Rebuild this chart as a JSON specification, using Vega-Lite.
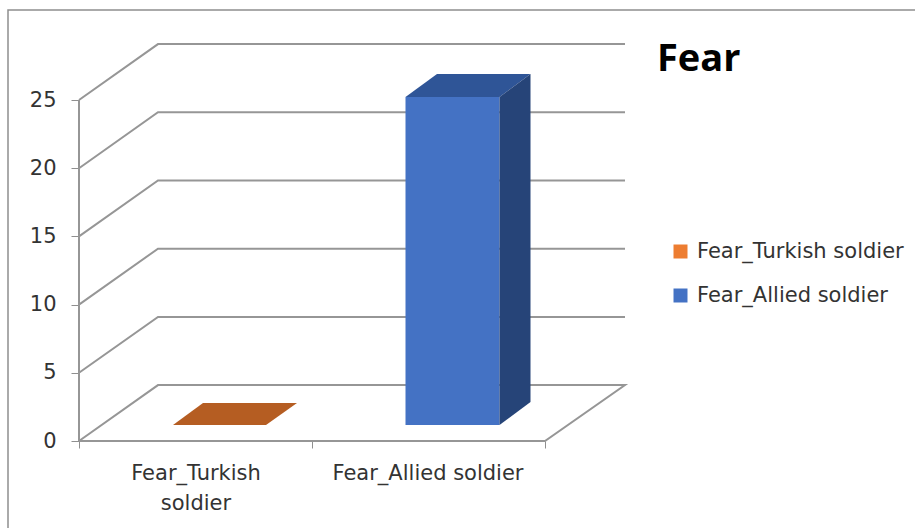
{"$schema":"https://vega.github.io/schema/vega-lite/v6.json","width":912,"height":526,"autosize":{"type":"none"},"padding":{"left":8,"top":10,"right":0,"bottom":0},"background":"white","title":{"text":"Fear","anchor":"start","frame":"group","dx":649,"dy":69,"font":"Open Sans","fontSize":38,"fontWeight":"bold","color":"#000000","offset":0},"view":{"stroke":"#8f8f8f","strokeWidth":1.5,"fill":null},"config":{"font":"DejaVu Sans"},"datasets":{"grid":[{"level":"0","i":0,"x":79,"y":0},{"level":"0","i":1,"x":158,"y":4.1},{"level":"0","i":2,"x":625,"y":4.1},{"level":"0","i":3,"x":545,"y":0},{"level":"0","i":4,"x":79,"y":0},{"level":"5","i":0,"x":79,"y":5},{"level":"5","i":1,"x":158,"y":9.1},{"level":"5","i":2,"x":625,"y":9.1},{"level":"10","i":0,"x":79,"y":10},{"level":"10","i":1,"x":158,"y":14.1},{"level":"10","i":2,"x":625,"y":14.1},{"level":"15","i":0,"x":79,"y":15},{"level":"15","i":1,"x":158,"y":19.1},{"level":"15","i":2,"x":625,"y":19.1},{"level":"20","i":0,"x":79,"y":20},{"level":"20","i":1,"x":158,"y":24.1},{"level":"20","i":2,"x":625,"y":24.1},{"level":"25","i":0,"x":79,"y":25},{"level":"25","i":1,"x":158,"y":29.1},{"level":"25","i":2,"x":625,"y":29.1},{"level":"axis","i":0,"x":79,"y":0},{"level":"axis","i":1,"x":79,"y":25}],"bars":[{"series":"Fear_Turkish soldier","value":0,"left":173,"right":266,"base":1.17,"top":1.17},{"series":"Fear_Allied soldier","value":24,"left":405.5,"right":499.5,"base":1.17,"top":25.22}],"faces":[{"face":"turkish top","x":173,"y":1.17,"y2":1.17},{"face":"turkish top","x":203,"y":2.79,"y2":1.17},{"face":"turkish top","x":266,"y":2.79,"y2":1.17},{"face":"turkish top","x":297,"y":2.79,"y2":2.79},{"face":"allied top","x":405.5,"y":25.22,"y2":25.22},{"face":"allied top","x":437,"y":26.91,"y2":25.22},{"face":"allied top","x":499.5,"y":26.91,"y2":25.22},{"face":"allied top","x":530.5,"y":26.91,"y2":26.91},{"face":"allied side","x":499.5,"y":25.22,"y2":1.17},{"face":"allied side","x":530.5,"y":26.91,"y2":2.86}],"labels":[{"label":"Fear_Turkish\nsoldier","x":196,"y":-1.6},{"label":"Fear_Allied soldier","x":428,"y":-1.6}]},"layer":[{"data":{"name":"grid"},"mark":{"type":"line","stroke":"#969696","strokeWidth":2,"clip":false},"encoding":{"x":{"field":"x","type":"quantitative","scale":{"domain":[8,920],"nice":false,"zero":false},"axis":{"title":null,"values":[79,312,545],"labels":false,"grid":false,"domain":false,"tickColor":"#8f8f8f","tickSize":7,"tickWidth":1,"offset":-95}},"y":{"field":"y","type":"quantitative","scale":{"domain":[-6.965,31.6],"nice":false,"zero":false},"axis":{"title":null,"values":[0,5,10,15,20,25],"domain":false,"grid":false,"tickColor":"#8f8f8f","tickSize":8,"tickWidth":1,"labelFont":"DejaVu Sans","labelFontSize":21,"labelColor":"#333333","labelPadding":15,"offset":-71}},"detail":{"field":"level"},"order":{"field":"i","type":"quantitative"}}},{"data":{"name":"bars"},"mark":{"type":"rect","clip":false},"encoding":{"x":{"field":"left","type":"quantitative"},"x2":{"field":"right"},"y":{"field":"base","type":"quantitative"},"y2":{"field":"top"},"color":{"field":"series","type":"nominal","scale":{"domain":["Fear_Turkish soldier","Fear_Allied soldier"],"range":["#ED7D31","#4472C4"]},"legend":{"title":null,"orient":"none","legendX":662,"legendY":231,"symbolType":"square","symbolSize":196,"symbolStrokeWidth":0,"labelFont":"DejaVu Sans","labelFontSize":21,"labelColor":"#333333","labelLimit":300,"rowPadding":22,"labelOffset":6}}}},{"data":{"name":"faces"},"transform":[{"filter":"datum.face==='turkish top'"}],"mark":{"type":"area","color":"#B55D22"},"encoding":{"x":{"field":"x","type":"quantitative"},"y":{"field":"y","type":"quantitative"},"y2":{"field":"y2"}}},{"data":{"name":"faces"},"transform":[{"filter":"datum.face==='allied top'"}],"mark":{"type":"area","color":"#2F5597"},"encoding":{"x":{"field":"x","type":"quantitative"},"y":{"field":"y","type":"quantitative"},"y2":{"field":"y2"}}},{"data":{"name":"faces"},"transform":[{"filter":"datum.face==='allied side'"}],"mark":{"type":"area","color":"#264478"},"encoding":{"x":{"field":"x","type":"quantitative"},"y":{"field":"y","type":"quantitative"},"y2":{"field":"y2"}}},{"data":{"name":"labels"},"mark":{"type":"text","font":"DejaVu Sans","fontSize":21,"color":"#333333","lineBreak":"\n","lineHeight":30,"baseline":"top","align":"center"},"encoding":{"x":{"field":"x","type":"quantitative"},"y":{"field":"y","type":"quantitative"},"text":{"field":"label"}}}]}
